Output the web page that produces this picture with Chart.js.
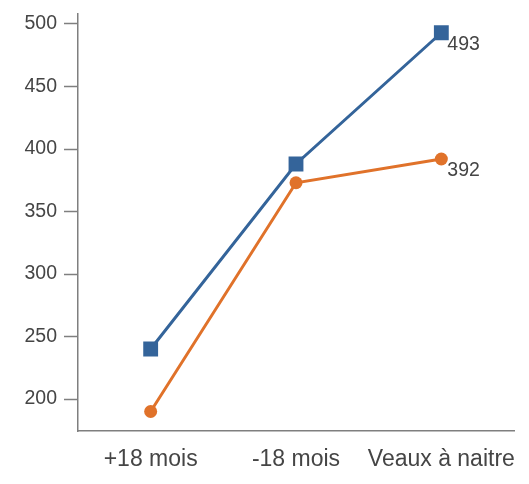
<!DOCTYPE html>
<html>
<head>
<meta charset="utf-8">
<script src="https://cdn.jsdelivr.net/npm/chart.js@4"></script>
<style>
  html, body { margin: 0; padding: 0; background: #fff; }
  #wrap { width: 529px; height: 484px; }
</style>
</head>
<body>
<div id="wrap"><canvas id="chart" width="529" height="484"></canvas></div>
<script>
// data
const categories = ['+18 mois', '-18 mois', 'Veaux à naitre'];
const blueValues = [240, 388, 493];
const orangeValues = [190, 373, 392];
const yTicks = [200, 250, 300, 350, 400, 450, 500];

const textColor = '#454545';
const axisColor = '#7f7f7f';
const fontFamily = '"Liberation Sans", Arial, sans-serif';

// writes the value next to the last point of each line
const lastLabels = {
    id: 'lastLabels',
    afterDatasetsDraw(chart) {
        const ctx = chart.ctx;
        ctx.save();
        ctx.font = '19.5px ' + fontFamily;
        ctx.fillStyle = textColor;
        ctx.textAlign = 'left';
        ctx.textBaseline = 'middle';
        chart.data.datasets.forEach((ds, i) => {
            const meta = chart.getDatasetMeta(i);
            const last = meta.data.length - 1;
            const pt = meta.data[last];
            ctx.fillText(String(ds.data[last]), pt.x + 6, pt.y + 12);
        });
        ctx.restore();
    }
};

const ctx = document.getElementById('chart').getContext('2d');
new Chart(ctx, {
    type: 'line',
    data: {
        labels: categories,
        datasets: [{
            data: blueValues,
            borderColor: '#34649a',
            backgroundColor: '#34649a',
            borderWidth: 3,
            pointStyle: 'rect',
            pointRadius: 10.5,
            pointBorderWidth: 0,
            tension: 0
        }, {
            data: orangeValues,
            borderColor: '#e0722a',
            backgroundColor: '#e0722a',
            borderWidth: 3,
            pointStyle: 'circle',
            pointRadius: 6.5,
            pointBorderWidth: 0,
            tension: 0
        }]
    },
    options: {
        responsive: false,
        animation: false,
        layout: { padding: { top: 14, right: 15, left: 0, bottom: 0 } },
        plugins: {
            legend: { display: false },
            tooltip: { enabled: false }
        },
        scales: {
            x: {
                offset: true,
                grid: { display: false },
                border: { display: true, color: axisColor, width: 1.5 },
                ticks: {
                    color: textColor,
                    font: { family: fontFamily, size: 23 },
                    padding: 7,
                    maxRotation: 0,
                    autoSkip: false
                },
                afterFit(scale) {
                    scale.height = 53;
                    scale.paddingLeft = 0;
                    scale.paddingRight = 0;
                }
            },
            y: {
                min: 174.4,
                max: 508,
                afterBuildTicks(scale) {
                    scale.ticks = yTicks.map(v => ({ value: v }));
                },
                grid: {
                    drawOnChartArea: false,
                    drawTicks: true,
                    tickLength: 14,
                    tickColor: axisColor,
                    tickWidth: 1.5
                },
                border: { display: true, color: axisColor, width: 1.5 },
                ticks: {
                    color: textColor,
                    font: { family: fontFamily, size: 19.5 },
                    padding: 7
                },
                afterFit(scale) {
                    scale.width = 78;
                    scale.paddingTop = 0;
                    scale.paddingBottom = 0;
                }
            }
        }
    },
    plugins: [lastLabels]
});
</script>
</body>
</html>
